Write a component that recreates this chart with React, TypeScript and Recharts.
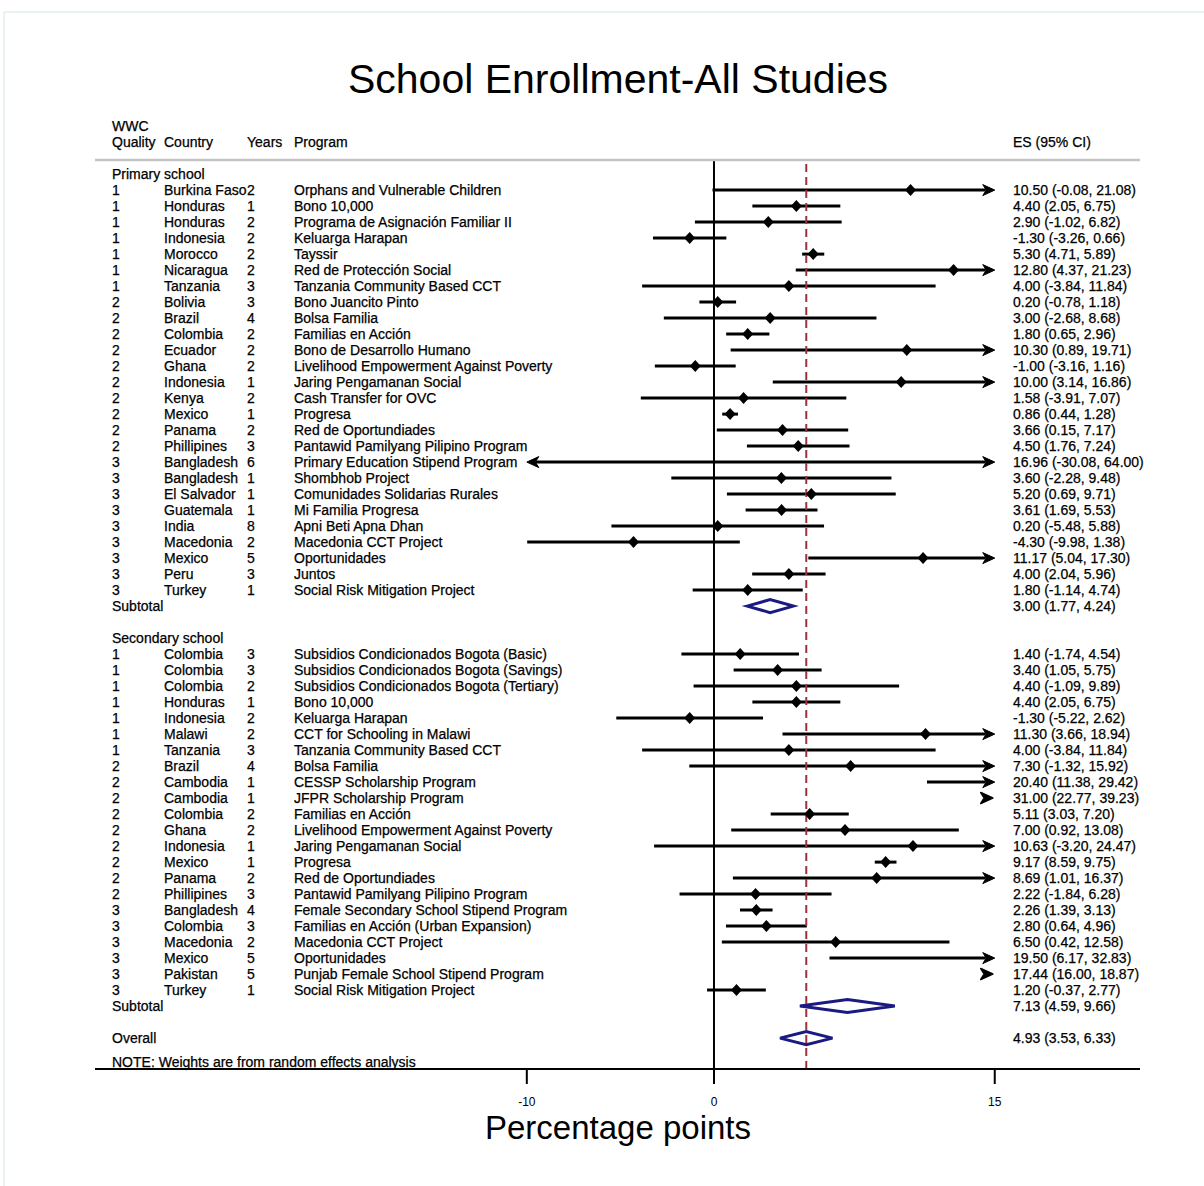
import React from "react";
import { ComposedChart, Bar, Scatter, XAxis, YAxis, ReferenceLine } from "recharts";

// Primary school studies
const primaryQuality = [1, 1, 1, 1, 1, 1, 1, 2, 2, 2, 2, 2, 2, 2, 2, 2, 2, 3, 3, 3, 3, 3, 3, 3, 3, 3];
const primaryCountry = [
  "Burkina Faso", "Honduras", "Honduras", "Indonesia", "Morocco", "Nicaragua", "Tanzania",
  "Bolivia", "Brazil", "Colombia", "Ecuador", "Ghana", "Indonesia", "Kenya", "Mexico", "Panama", "Phillipines",
  "Bangladesh", "Bangladesh", "El Salvador", "Guatemala", "India", "Macedonia", "Mexico", "Peru", "Turkey",
];
const primaryYears = [2, 1, 2, 2, 2, 2, 3, 3, 4, 2, 2, 2, 1, 2, 1, 2, 3, 6, 1, 1, 1, 8, 2, 5, 3, 1];
const primaryProgram = [
  "Orphans and Vulnerable Children", "Bono 10,000", "Programa de Asignación Familiar II", "Keluarga Harapan",
  "Tayssir", "Red de Protección Social", "Tanzania Community Based CCT", "Bono Juancito Pinto", "Bolsa Familia",
  "Familias en Acción", "Bono de Desarrollo Humano", "Livelihood Empowerment Against Poverty",
  "Jaring Pengamanan Social", "Cash Transfer for OVC", "Progresa", "Red de Oportundiades",
  "Pantawid Pamilyang Pilipino Program", "Primary Education Stipend Program", "Shombhob Project",
  "Comunidades Solidarias Rurales", "Mi Familia Progresa", "Apni Beti Apna Dhan", "Macedonia CCT Project",
  "Oportunidades", "Juntos", "Social Risk Mitigation Project",
];
const primaryEs = [10.5, 4.4, 2.9, -1.3, 5.3, 12.8, 4.0, 0.2, 3.0, 1.8, 10.3, -1.0, 10.0, 1.58, 0.86, 3.66, 4.5, 16.96, 3.6, 5.2, 3.61, 0.2, -4.3, 11.17, 4.0, 1.8];
const primaryLo = [-0.08, 2.05, -1.02, -3.26, 4.71, 4.37, -3.84, -0.78, -2.68, 0.65, 0.89, -3.16, 3.14, -3.91, 0.44, 0.15, 1.76, -30.08, -2.28, 0.69, 1.69, -5.48, -9.98, 5.04, 2.04, -1.14];
const primaryHi = [21.08, 6.75, 6.82, 0.66, 5.89, 21.23, 11.84, 1.18, 8.68, 2.96, 19.71, 1.16, 16.86, 7.07, 1.28, 7.17, 7.24, 64.0, 9.48, 9.71, 5.53, 5.88, 1.38, 17.3, 5.96, 4.74];
const primarySubtotal = [3.0, 1.77, 4.24];

// Secondary school studies
const secondaryQuality = [1, 1, 1, 1, 1, 1, 1, 2, 2, 2, 2, 2, 2, 2, 2, 2, 3, 3, 3, 3, 3, 3];
const secondaryCountry = [
  "Colombia", "Colombia", "Colombia", "Honduras", "Indonesia", "Malawi", "Tanzania", "Brazil", "Cambodia",
  "Cambodia", "Colombia", "Ghana", "Indonesia", "Mexico", "Panama", "Phillipines", "Bangladesh", "Colombia",
  "Macedonia", "Mexico", "Pakistan", "Turkey",
];
const secondaryYears = [3, 3, 2, 1, 2, 2, 3, 4, 1, 1, 2, 2, 1, 1, 2, 3, 4, 3, 2, 5, 5, 1];
const secondaryProgram = [
  "Subsidios Condicionados Bogota (Basic)", "Subsidios Condicionados Bogota (Savings)",
  "Subsidios Condicionados Bogota (Tertiary)", "Bono 10,000", "Keluarga Harapan", "CCT for Schooling in Malawi",
  "Tanzania Community Based CCT", "Bolsa Familia", "CESSP Scholarship Program", "JFPR Scholarship Program",
  "Familias en Acción", "Livelihood Empowerment Against Poverty", "Jaring Pengamanan Social", "Progresa",
  "Red de Oportundiades", "Pantawid Pamilyang Pilipino Program", "Female Secondary School Stipend Program",
  "Familias en Acción (Urban Expansion)", "Macedonia CCT Project", "Oportunidades",
  "Punjab Female School Stipend Program", "Social Risk Mitigation Project",
];
const secondaryEs = [1.4, 3.4, 4.4, 4.4, -1.3, 11.3, 4.0, 7.3, 20.4, 31.0, 5.11, 7.0, 10.63, 9.17, 8.69, 2.22, 2.26, 2.8, 6.5, 19.5, 17.44, 1.2];
const secondaryLo = [-1.74, 1.05, -1.09, 2.05, -5.22, 3.66, -3.84, -1.32, 11.38, 22.77, 3.03, 0.92, -3.2, 8.59, 1.01, -1.84, 1.39, 0.64, 0.42, 6.17, 16.0, -0.37];
const secondaryHi = [4.54, 5.75, 9.89, 6.75, 2.62, 18.94, 11.84, 15.92, 29.42, 39.23, 7.2, 13.08, 24.47, 9.75, 16.37, 6.28, 3.13, 4.96, 12.58, 32.83, 18.87, 2.77];
const secondarySubtotal = [7.13, 4.59, 9.66];

const overallEstimate = [4.93, 3.53, 6.33];

const xTicks = [-10, 0, 15];
// CIs are clipped to this window and get arrows where they run past it
const CLIP_LO = -10;
const CLIP_HI = 15;
const X_DOMAIN: [number, number] = [-33.07, 22.76];

const FONT = "'Liberation Sans', Arial, Helvetica, sans-serif";
const NAVY = "#1a1a80";

type Row = {
  key: string;
  kind: "group" | "study" | "pooled" | "blank";
  label?: string;
  quality?: number;
  country?: string;
  years?: number;
  program?: string;
  es?: number;
  lo?: number;
  hi?: number;
  ci?: [number, number] | null;
  mark?: number | null;
  off?: number | null;
};

const fmt = (v: number) => v.toFixed(2);

function studyRows(prefix: string, q: number[], c: string[], y: number[], p: string[], es: number[], lo: number[], hi: number[]): Row[] {
  return es.map((e, i) => {
    const beyond = lo[i] >= CLIP_HI;
    return {
      key: `${prefix}-${i}`,
      kind: "study",
      quality: q[i],
      country: c[i],
      years: y[i],
      program: p[i],
      es: e,
      lo: lo[i],
      hi: hi[i],
      ci: beyond ? null : [Math.max(lo[i], CLIP_LO), Math.min(hi[i], CLIP_HI)],
      mark: e >= CLIP_LO && e <= CLIP_HI ? e : null,
      off: beyond ? CLIP_HI : null,
    };
  });
}

const pooled = (key: string, label: string, v: number[]): Row => ({
  key, kind: "pooled", label, es: v[0], lo: v[1], hi: v[2], ci: [v[1], v[2]], mark: null, off: null,
});

const rows: Row[] = [
  { key: "head-primary", kind: "group", label: "Primary school" },
  ...studyRows("primary", primaryQuality, primaryCountry, primaryYears, primaryProgram, primaryEs, primaryLo, primaryHi),
  pooled("sub-primary", "Subtotal", primarySubtotal),
  { key: "gap-1", kind: "blank" },
  { key: "head-secondary", kind: "group", label: "Secondary school" },
  ...studyRows("secondary", secondaryQuality, secondaryCountry, secondaryYears, secondaryProgram, secondaryEs, secondaryLo, secondaryHi),
  pooled("sub-secondary", "Subtotal", secondarySubtotal),
  { key: "gap-2", kind: "blank" },
  pooled("overall", "Overall", overallEstimate),
];
const rowByKey: Record<string, Row> = Object.fromEntries(rows.map((r) => [r.key, r]));

// small text is a touch heavier than plain Liberation Sans
const smallText = { fontSize: 14, fill: "#000", stroke: "#000", strokeWidth: 0.25, fontFamily: FONT, dy: "0.355em" } as const;

// left text columns + ES column, drawn as the category axis ticks
function RowText(props: any) {
  const { y, payload } = props;
  const r = rowByKey[payload?.value];
  if (!r || r.kind === "blank") return <g />;
  const t = smallText;
  if (r.kind === "group") return <text x={112} y={y} {...t}>{r.label}</text>;
  const esText = `${fmt(r.es!)} (${fmt(r.lo!)}, ${fmt(r.hi!)})`;
  return (
    <g>
      {r.kind === "pooled" ? (
        <text x={112} y={y} {...t}>{r.label}</text>
      ) : (
        <>
          <text x={112} y={y} {...t}>{r.quality}</text>
          <text x={164} y={y} {...t}>{r.country}</text>
          <text x={247} y={y} {...t}>{r.years}</text>
          <text x={294} y={y} {...t}>{r.program}</text>
        </>
      )}
      <text x={1013} y={y} {...t}>{esText}</text>
    </g>
  );
}

const arrowHead = (tip: number, cy: number, dir: 1 | -1) =>
  `${tip},${cy} ${tip - dir * 12},${cy - 5.5} ${tip - dir * 8.5},${cy} ${tip - dir * 12},${cy + 5.5}`;

// CI line (with clip arrows) for studies, hollow diamond for pooled estimates
function CiShape(props: any) {
  const { x, y, width, height, payload } = props;
  if (!payload || !payload.ci || !Number.isFinite(x) || !Number.isFinite(width)) return <g />;
  const cy = y + height / 2;
  const [lo, hi] = payload.ci as [number, number];
  if (payload.kind === "pooled") {
    const cx = x + ((payload.es - lo) / (hi - lo)) * width;
    const h = 6.5;
    return (
      <polygon
        points={`${x},${cy} ${cx},${cy - h} ${x + width},${cy} ${cx},${cy + h}`}
        fill="none"
        stroke={NAVY}
        strokeWidth={3}
      />
    );
  }
  const cutLeft = payload.lo < CLIP_LO;
  const cutRight = payload.hi > CLIP_HI;
  const x1 = cutLeft ? x + 9 : x;
  const x2 = cutRight ? x + width - 9 : x + width;
  return (
    <g>
      <line x1={x1} y1={cy} x2={x2} y2={cy} stroke="#000" strokeWidth={3} />
      {cutLeft && <polygon points={arrowHead(x, cy, -1)} fill="#000" stroke="#000" strokeWidth={1} />}
      {cutRight && <polygon points={arrowHead(x + width, cy, 1)} fill="#000" stroke="#000" strokeWidth={1} />}
    </g>
  );
}

function PointShape(props: any) {
  const { cx, cy } = props;
  if (!Number.isFinite(cx) || !Number.isFinite(cy)) return <g />;
  return <polygon points={`${cx},${cy - 6} ${cx + 5.5},${cy} ${cx},${cy + 6} ${cx - 5.5},${cy}`} fill="#000" />;
}

// chevron for estimates whose whole interval sits past the right edge
function OffScaleShape(props: any) {
  const { cx, cy } = props;
  if (!Number.isFinite(cx) || !Number.isFinite(cy)) return <g />;
  return <polygon points={arrowHead(cx - 2, cy, 1)} fill="#000" stroke="#000" strokeWidth={1.6} strokeLinejoin="round" />;
}

export default function App() {
  return (
    <div style={{ position: "absolute", left: 0, top: 0, width: 1204, height: 1186, background: "#fff", fontFamily: FONT }}>
      <ComposedChart
        width={1204}
        height={1186}
        layout="vertical"
        data={rows}
        margin={{ top: 159, right: 64, bottom: 67, left: 0 }}
      >
        <XAxis
          xAxisId="top"
          orientation="top"
          type="number"
          domain={X_DOMAIN}
          allowDataOverflow
          height={1}
          tick={false}
          tickLine={false}
          axisLine={{ stroke: "#c4c4c4", strokeWidth: 2.5 }}
        />
        <XAxis
          type="number"
          domain={X_DOMAIN}
          allowDataOverflow
          ticks={xTicks}
          interval={0}
          height={50}
          tickSize={15}
          tickMargin={13}
          axisLine={{ stroke: "#000", strokeWidth: 2 }}
          tickLine={{ stroke: "#000", strokeWidth: 2 }}
          tick={{ fill: "#000", fontSize: 12, fontFamily: FONT }}
        />
        <YAxis
          type="category"
          dataKey="key"
          width={95}
          interval={0}
          axisLine={false}
          tickLine={false}
          padding={{ top: 6, bottom: 23 }}
          tick={<RowText />}
        />
        <ReferenceLine x={0} stroke="#000" strokeWidth={2} />
        <ReferenceLine x={overallEstimate[0]} stroke="#a0303a" strokeWidth={2} strokeDasharray="8 5" />
        <Bar dataKey="ci" shape={<CiShape />} isAnimationActive={false} />
        <Scatter dataKey="mark" shape={<PointShape />} isAnimationActive={false} />
        <Scatter dataKey="off" shape={<OffScaleShape />} isAnimationActive={false} />
      </ComposedChart>
      <svg
        width={1204}
        height={1186}
        style={{ position: "absolute", left: 0, top: 0, pointerEvents: "none" }}
        fontFamily={FONT}
      >
        <line x1={4} y1={12} x2={1204} y2={12} stroke="#e3ecec" strokeWidth={1.5} />
        <line x1={4} y1={12} x2={4} y2={1186} stroke="#e3ecec" strokeWidth={1.5} />
        <text x={618} y={78} dy="0.355em" textAnchor="middle" fontSize={41} fill="#000">
          School Enrollment-All Studies
        </text>
        <g>
          <text x={112} y={126} {...smallText}>WWC</text>
          <text x={112} y={142} {...smallText}>Quality</text>
          <text x={164} y={142} {...smallText}>Country</text>
          <text x={247} y={142} {...smallText}>Years</text>
          <text x={294} y={142} {...smallText}>Program</text>
          <text x={1013} y={142} {...smallText}>ES (95% CI)</text>
          <text x={112} y={1062} {...smallText}>NOTE: Weights are from random effects analysis</text>
        </g>
        <text x={618} y={1127} dy="0.355em" textAnchor="middle" fontSize={33} fill="#000">
          Percentage points
        </text>
      </svg>
    </div>
  );
}
